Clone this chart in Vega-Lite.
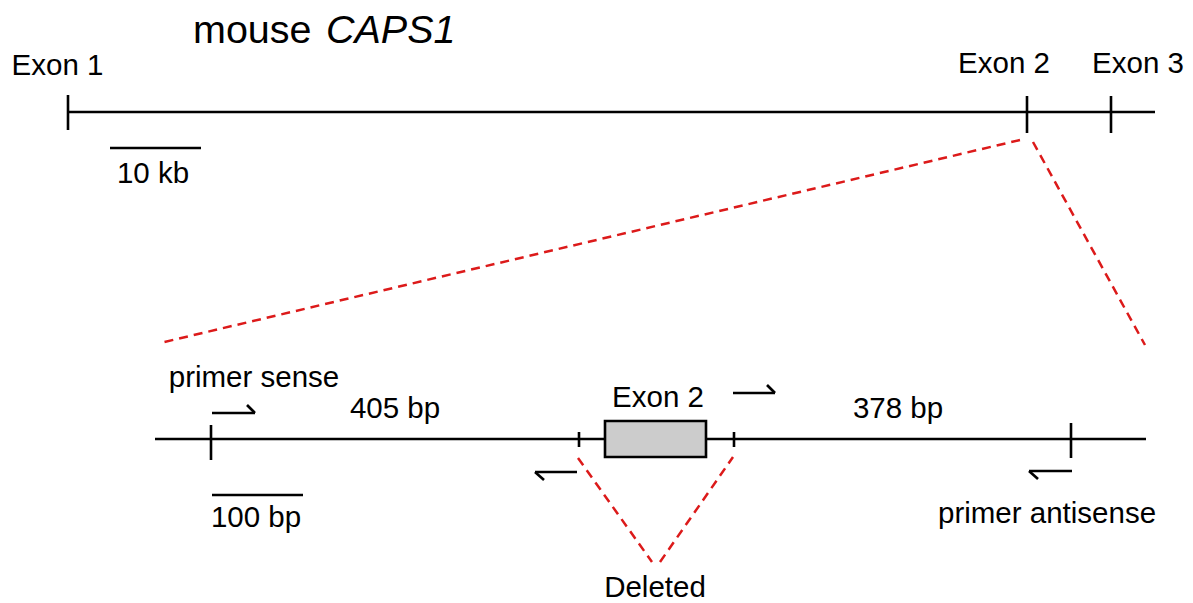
{
  "$schema": "https://vega.github.io/schema/vega-lite/v6.json",
  "width": 1193,
  "height": 603,
  "padding": 0,
  "autosize": {"type": "fit", "contains": "padding"},
  "background": "white",
  "config": {"view": {"stroke": null}},
  "datasets": {
    "black": [
      {"x": 67, "y": 112, "x2": 1155, "y2": 112},
      {"x": 68, "y": 95, "x2": 68, "y2": 130},
      {"x": 1027, "y": 96, "x2": 1027, "y2": 133},
      {"x": 1111, "y": 96, "x2": 1111, "y2": 133},
      {"x": 110, "y": 148, "x2": 201, "y2": 148},
      {"x": 155, "y": 439, "x2": 1146, "y2": 439},
      {"x": 211, "y": 425, "x2": 211, "y2": 460},
      {"x": 579, "y": 432, "x2": 579, "y2": 447},
      {"x": 734, "y": 432, "x2": 734, "y2": 447},
      {"x": 1071, "y": 423, "x2": 1071, "y2": 458},
      {"x": 212, "y": 495, "x2": 303, "y2": 495},
      {"x": 212, "y": 413, "x2": 255, "y2": 413},
      {"x": 255, "y": 413, "x2": 247, "y2": 405},
      {"x": 733, "y": 393, "x2": 775, "y2": 393},
      {"x": 775, "y": 393, "x2": 767, "y2": 385},
      {"x": 535, "y": 472, "x2": 577, "y2": 472},
      {"x": 535, "y": 472, "x2": 544, "y2": 480},
      {"x": 1029, "y": 471, "x2": 1072, "y2": 471},
      {"x": 1029, "y": 471, "x2": 1038, "y2": 479}
    ],
    "red": [
      {"x": 1020, "y": 140, "x2": 160, "y2": 343},
      {"x": 1033, "y": 142, "x2": 1145, "y2": 345},
      {"x": 578, "y": 458, "x2": 652, "y2": 562},
      {"x": 660, "y": 562, "x2": 733, "y2": 457}
    ],
    "box": [
      {"x": 605, "y": 421, "x2": 706, "y2": 457}
    ],
    "labels": [
      {"x": 57.5, "y": 75, "text": "Exon 1"},
      {"x": 1004, "y": 73, "text": "Exon 2"},
      {"x": 1138, "y": 73, "text": "Exon 3"},
      {"x": 153, "y": 183, "text": "10 kb"},
      {"x": 254, "y": 387, "text": "primer sense"},
      {"x": 395, "y": 418, "text": "405 bp"},
      {"x": 658, "y": 407, "text": "Exon 2"},
      {"x": 898, "y": 418, "text": "378 bp"},
      {"x": 256, "y": 527, "text": "100 bp"},
      {"x": 1047, "y": 523, "text": "primer antisense"},
      {"x": 655, "y": 597, "text": "Deleted"}
    ],
    "title": [
      {"x": 193, "y": 43, "text": "mouse"}
    ],
    "titleItalic": [
      {"x": 326, "y": 43, "text": "CAPS1"}
    ]
  },
  "encoding": {
    "x": {"field": "x", "type": "quantitative", "scale": {"domain": [0, 1193], "nice": false, "zero": false}, "axis": null},
    "y": {"field": "y", "type": "quantitative", "scale": {"domain": [603, 0], "nice": false, "zero": false}, "axis": null}
  },
  "layer": [
    {
      "data": {"name": "black"},
      "mark": {"type": "rule", "color": "black", "strokeWidth": 2.6, "strokeCap": "butt"},
      "encoding": {"x2": {"field": "x2"}, "y2": {"field": "y2"}}
    },
    {
      "data": {"name": "red"},
      "mark": {"type": "rule", "color": "#dc1a1a", "strokeWidth": 2.5, "strokeDash": [9, 6]},
      "encoding": {"x2": {"field": "x2"}, "y2": {"field": "y2"}}
    },
    {
      "data": {"name": "box"},
      "mark": {"type": "rect", "fill": "#cccccc", "stroke": "black", "strokeWidth": 2.6},
      "encoding": {"x2": {"field": "x2"}, "y2": {"field": "y2"}}
    },
    {
      "data": {"name": "labels"},
      "mark": {"type": "text", "font": "Liberation Sans", "fontSize": 29.5, "align": "center", "baseline": "alphabetic", "color": "black"},
      "encoding": {"text": {"field": "text"}}
    },
    {
      "data": {"name": "title"},
      "mark": {"type": "text", "font": "Liberation Sans", "fontSize": 39.5, "align": "left", "baseline": "alphabetic", "color": "black"},
      "encoding": {"text": {"field": "text"}}
    },
    {
      "data": {"name": "titleItalic"},
      "mark": {"type": "text", "font": "Liberation Sans", "fontSize": 39.5, "fontStyle": "italic", "align": "left", "baseline": "alphabetic", "color": "black"},
      "encoding": {"text": {"field": "text"}}
    }
  ]
}
